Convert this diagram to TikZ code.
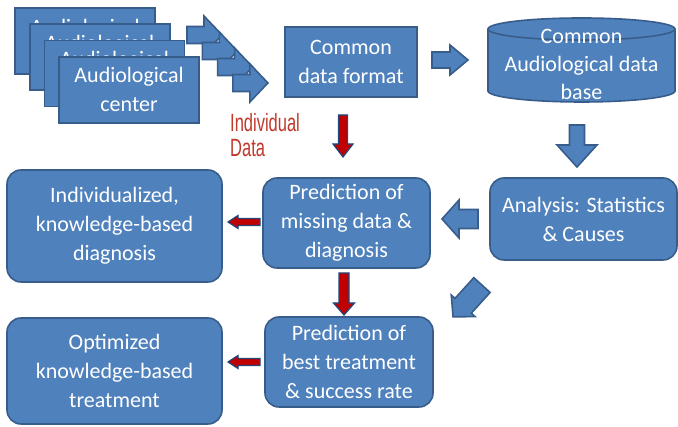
\documentclass[tikz,border=0pt]{standalone}
\usepackage{fontspec}
\setmainfont{Carlito}
\newfontfamily\narrowsans[FakeStretch=0.66]{Liberation Sans}
\usetikzlibrary{calc}
\definecolor{boxblue}{HTML}{4F81BD}
\definecolor{boxedge}{HTML}{385D8A}
\definecolor{arrowred}{HTML}{C00000}
\definecolor{arrowedge}{HTML}{1F497D}
\definecolor{textred}{HTML}{C0392B}
\tikzset{
  sqbox/.style={rectangle, fill=boxblue, draw=boxedge, line width=1.6pt, text=white,
    align=center, inner sep=2pt, font=\fontsize{22}{29}\selectfont},
  rbox/.style={sqbox, rounded corners=14pt},
  bluearrow/.style={fill=boxblue, draw=boxedge, line width=1.6pt},
  redarrow/.style={fill=arrowred, draw=arrowedge, line width=1.2pt},
  pics/blockarrow/.style n args={4}{code={
    \path[pic actions] ({-#1/2},{-#2}) -- ({#1/2-#4},{-#2}) -- ({#1/2-#4},{-#3}) -- ({#1/2},0)
      -- ({#1/2-#4},{#3}) -- ({#1/2-#4},{#2}) -- ({-#1/2},{#2}) -- cycle;
  }},
}

\begin{document}
\begin{tikzpicture}[x=1pt,y=1pt]
  \fill[white] (0,0) rectangle (678,427);
  \useasboundingbox (0,0) rectangle (678,427);
  % stack of centers
  \foreach \i in {0,...,3}
    \node[sqbox, minimum width=140, minimum height=66] (ac\i) at ({85+14.7*\i},{386-16.3*\i}) {Audiological\\center};
  \foreach \i in {0,...,3}
    \pic[bluearrow] at ({204.5+15.3*\i},{392-16*\i}) {blockarrow={35}{8.5}{19}{18}};

  \node[sqbox, minimum width=132, minimum height=70] (cdf) at (351,365) {Common\\data format};
  % data base drum
  \draw[bluearrow] (488,398) -- (488,336) arc[start angle=180, end angle=360, x radius=93.5, y radius=11]
    -- (675,398) arc[start angle=0, end angle=180, x radius=93.5, y radius=11] -- cycle;
  \draw[boxedge, line width=1.6pt] (488,398) arc[start angle=180, end angle=360, x radius=93.5, y radius=11];
  \node[text=white, align=center, font=\fontsize{22}{28}\selectfont] (cyl) at (581.5,363) {Common\\Audiological data\\base};

  \node[rbox, minimum width=167, minimum height=90] (pmd) at (346.5,204) {Prediction of\\missing data \&\\diagnosis};
  \node[rbox, minimum width=187, minimum height=82] (ana) at (583.5,208) {Analysis: Statistics\\\& Causes};
  \node[rbox, minimum width=168, minimum height=90] (pbt) at (349,65) {Prediction of\\best treatment\\\& success rate};
  \node[rbox, minimum width=215, minimum height=112] (ikd) at (114.5,201) {Individualized,\\knowledge-based\\diagnosis};
  \node[rbox, minimum width=215, minimum height=106] (okt) at (114.5,56) {Optimized\\knowledge-based\\treatment};

  \node[anchor=north west, inner sep=0pt, align=left, text=textred,
    font=\narrowsans\fontsize{25}{25}\selectfont] (indiv) at (230,314) {Individual\\Data};

  \pic[bluearrow] at (450,367) {blockarrow={36}{8}{15}{18}};
  \pic[bluearrow, rotate=-90] at (577,281) {blockarrow={42}{7.5}{20}{22}};
  \pic[bluearrow, rotate=180] at (460,208) {blockarrow={36}{9.5}{19}{17}};
  \pic[bluearrow, rotate=227.8] at (467.5,126) {blockarrow={43}{11}{16}{15}};

  \pic[redarrow, rotate=-90] at (343,291) {blockarrow={42}{4.5}{10}{13}};
  \pic[redarrow, rotate=-90] at (344,133) {blockarrow={42}{5}{10.5}{12}};
  \pic[redarrow, rotate=180] at (244,205) {blockarrow={32}{3.5}{6.5}{10}};
  \pic[redarrow, rotate=180] at (244,65) {blockarrow={32}{3.5}{6.5}{10}};
\end{tikzpicture}
\end{document}
